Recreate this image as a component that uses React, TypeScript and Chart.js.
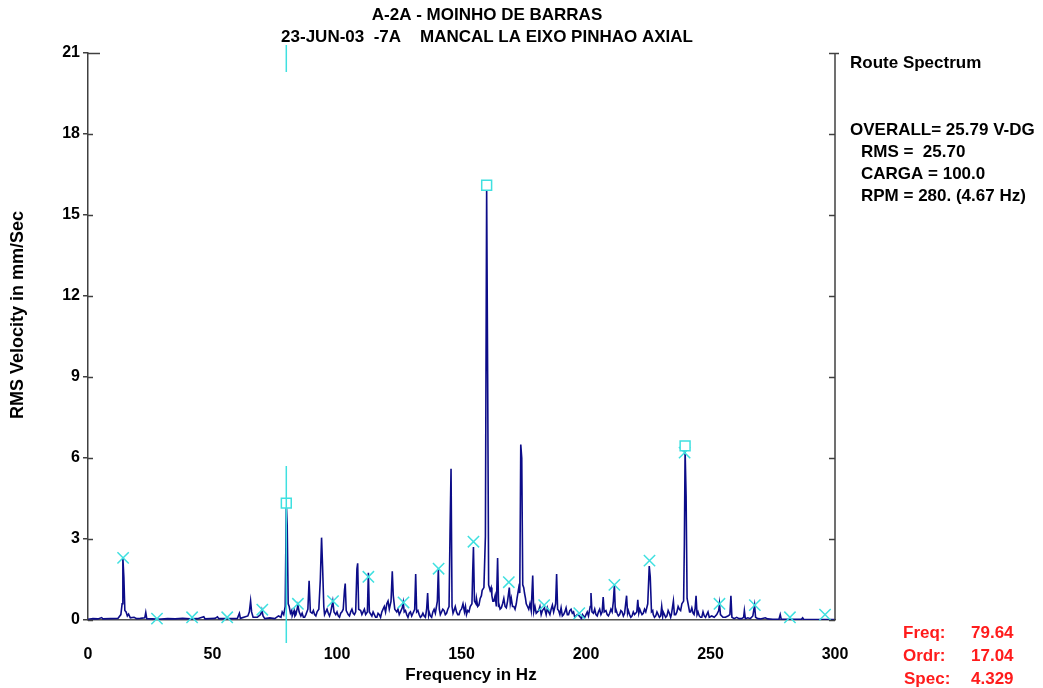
import React, { useEffect, useRef } from "react";
import { Chart, registerables } from "chart.js";

Chart.register(...registerables);

// ---- data ----
const SPEC_FREQ = [
  0, 2, 4, 5.5, 6, 9, 12, 13.2, 13.7, 14.0, 14.4, 14.8, 15.3, 15.8, 16.3, 17, 18.5, 19.5, 21, 22.8,
  23.2, 23.6, 26, 28, 32, 35, 38, 41, 44, 46.5, 47, 51, 52, 52.5, 56, 60, 60.8, 61.2, 64.2, 64.8,
  65.3, 65.7, 66.3, 68, 69.3, 69.8, 70.3, 71, 73, 75, 76.5, 77.5, 78, 78.6, 79.2, 79.64, 80.0, 80.4, 80.8, 81.3,
  82, 82.8, 83.5, 84.3, 84.8, 85.5, 86.5, 87.5, 88.3, 88.8, 89.3, 90, 91, 92, 92.7, 93.3, 93.8, 94.2, 94.7, 95.5,
  96.5, 97.5, 98.3, 98.8, 99.5, 100.5, 101.5, 102.5, 103.0, 103.3, 103.7, 104.5, 105.5, 106.5, 107.5, 108.0, 108.3, 108.7, 109.5, 110.5,
  111.5, 112.2, 112.6, 113.0, 114, 115, 116, 117, 118, 119, 120, 121, 121.7, 122.2, 122.6, 123.2, 124, 125, 126.2, 126.6,
  127, 128, 129, 130, 131.2, 131.6, 132, 133, 134, 135, 136.0, 136.4, 136.8, 137.5, 138.5, 139.5, 140.3, 140.7, 141.1, 142,
  143, 144, 145.0, 145.4, 145.8, 146.2, 147, 148, 149, 150, 150.6, 151.2, 152, 153, 154.2, 154.5, 154.8, 155.2, 155.8, 156.5,
  157.5, 158.3, 159.0, 159.6, 160.1, 160.5, 160.9, 161.5, 162.2, 163, 164, 164.5, 164.9, 165.5, 166.5, 167.5, 168.5, 169.2, 169.6, 170.5,
  171.5, 172.3, 173.0, 173.4, 173.8, 174.2, 174.6, 175.3, 176, 177, 178, 178.6, 179, 180, 181, 182, 183.3, 184, 185, 186,
  187, 187.8, 188.2, 188.6, 189.5, 190.5, 191.5, 192.5, 193.5, 194.5, 195.5, 196.5, 197.3, 198.2, 199, 200, 201, 201.7, 202.0, 202.4,
  203, 204, 205, 206, 206.5, 206.9, 207.3, 208.5, 209.5, 210.5, 211.0, 211.4, 211.8, 212.5, 213.5, 214.5, 215.5, 216.3, 216.7, 217.5,
  218.5, 219.5, 220.4, 220.8, 221.2, 222, 223, 224, 224.8, 225.4, 225.8, 226.3, 227, 228, 229, 230, 230.4, 230.8, 231.5, 232.5,
  233.5, 234.3, 235.1, 235.5, 236.5, 237.5, 238.5, 239.2, 239.5, 239.8, 240.2, 240.6, 241.2, 242, 243, 243.8, 244.2, 244.6, 245.5, 246.5,
  247.5, 248.5, 249.5, 250.5, 251.5, 252.5, 253.3, 253.6, 254, 255, 256, 257, 257.8, 258.2, 258.6, 259.5, 260.5, 261.5, 262.5, 263.3,
  263.6, 264, 265, 266, 267, 267.7, 268.1, 269, 270, 272, 273, 275, 277.5, 278, 278.4, 281, 284, 286.5, 287, 287.4,
  290, 295, 300,
];
const SPEC_AMP = [
  0.03, 0.05, 0.04, 0.09, 0.04, 0.05, 0.06, 0.2, 0.6, 2.3, 1.6, 0.35, 0.3, 0.15, 0.22, 0.08, 0.1, 0.05, 0.06, 0.08,
  0.28, 0.05, 0.04, 0.03, 0.05, 0.04, 0.06, 0.04, 0.05, 0.12, 0.04, 0.06, 0.12, 0.05, 0.05, 0.06, 0.25, 0.06, 0.15, 0.3,
  0.7, 0.3, 0.1, 0.1, 0.2, 0.38, 0.15, 0.05, 0.08, 0.05, 0.15, 0.1, 0.3, 0.2, 0.5, 4.33, 3.5, 0.6, 0.5, 0.25,
  0.15, 0.35, 0.2, 0.55, 0.3, 0.15, 0.1, 0.2, 0.4, 1.45, 0.3, 0.25, 0.2, 0.3, 0.4, 1.5, 3.05, 2.0, 0.5, 0.3,
  0.25, 0.3, 0.7, 0.3, 0.2, 0.15, 0.25, 0.4, 1.1, 1.35, 0.35, 0.2, 0.3, 0.25, 0.3, 1.9, 2.1, 0.4, 0.35, 0.3,
  0.2, 0.3, 1.75, 0.3, 0.15, 0.2, 0.1, 0.2, 0.3, 0.5, 0.6, 0.4, 0.7, 1.8, 0.9, 0.4, 0.3, 0.2, 0.45, 0.65,
  0.3, 0.2, 0.25, 0.15, 0.4, 1.7, 0.3, 0.2, 0.15, 0.15, 0.4, 1.0, 0.2, 0.15, 0.3, 0.25, 0.7, 1.9, 0.4, 0.3,
  0.35, 0.25, 0.5, 3.3, 5.6, 0.5, 0.35, 0.3, 0.2, 0.4, 0.6, 0.3, 0.2, 0.3, 0.6, 1.8, 2.7, 0.7, 0.6, 0.5,
  0.8, 1.1, 1.2, 3.1, 16.0, 9.1, 1.3, 1.1, 0.9, 0.7, 0.5, 2.3, 0.5, 0.4, 0.6, 0.5, 0.7, 1.2, 0.6, 0.5,
  0.4, 0.8, 1.2, 1.0, 6.5, 6.0, 1.3, 1.0, 0.6, 0.4, 0.35, 1.65, 0.3, 0.25, 0.35, 0.2, 0.45, 0.2, 0.3, 0.4,
  0.3, 0.6, 1.7, 0.4, 0.2, 0.15, 0.3, 0.2, 0.35, 0.25, 0.1, 0.2, 0.15, 0.05, 0.15, 0.2, 0.15, 0.5, 1.0, 0.3,
  0.25, 0.2, 0.3, 0.2, 0.3, 0.85, 0.3, 0.2, 0.25, 0.3, 0.7, 1.3, 0.3, 0.25, 0.2, 0.3, 0.25, 0.9, 0.25, 0.2,
  0.15, 0.2, 0.3, 0.75, 0.25, 0.3, 0.25, 0.3, 0.6, 2.0, 1.6, 0.3, 0.2, 0.15, 0.2, 0.15, 0.5, 0.15, 0.2, 0.15,
  0.25, 0.2, 0.7, 0.2, 0.3, 0.4, 0.6, 0.7, 2.8, 6.3, 4.6, 0.8, 0.5, 0.3, 0.25, 0.4, 0.9, 0.2, 0.15, 0.1,
  0.15, 0.2, 0.1, 0.15, 0.1, 0.2, 0.35, 0.6, 0.2, 0.1, 0.1, 0.15, 0.2, 0.9, 0.1, 0.05, 0.1, 0.05, 0.05, 0.1,
  0.35, 0.05, 0.08, 0.05, 0.15, 0.55, 0.1, 0.05, 0.04, 0.08, 0.04, 0.03, 0.03, 0.2, 0.03, 0.03, 0.03, 0.03, 0.08, 0.03,
  0.02, 0.02, 0.02,
];

// extra noise-floor samples between the peaks (merged with the list above)
const NOISE_FREQ = [
  81.8, 83.1, 86.0, 87.0, 90.5, 91.5, 95.0, 96.0, 97.0, 100.0, 101.0, 102.0, 105.0, 106.0, 107.0, 110.0, 111.0, 114.5, 115.5, 116.5,
  117.5, 118.5, 119.5, 120.5, 124.5, 125.5, 127.5, 128.5, 129.5, 130.5, 132.5, 133.5, 134.5, 135.5, 137.0, 138.0, 139.0, 141.5, 142.5, 143.5,
  144.5, 146.6, 147.5, 148.5, 149.5, 151.6, 152.5, 153.5, 156.0, 157.0, 158.0, 161.9, 162.6, 163.5, 165.0, 166.0, 167.0, 168.0, 170.0, 171.0,
  172.0, 175.0, 175.7, 176.5, 177.5, 179.5, 180.5, 181.5, 182.5, 184.5, 185.5, 186.5, 189.0, 190.0, 191.0, 192.0, 193.0, 194.0, 195.0, 196.0,
  198.6, 199.5, 200.5, 203.5, 204.5, 205.5, 208.0, 209.0, 210.0, 212.0, 213.0, 214.0, 215.0, 217.0, 218.0, 219.0, 221.6, 222.5, 223.5, 226.8,
  227.5, 228.5, 229.5, 231.0, 232.0, 233.0, 234.0, 236.0, 237.0, 238.0, 241.6, 242.5, 243.4, 245.0, 246.0, 247.0, 248.0, 249.0,
];
const NOISE_AMP = [
  0.35, 0.15, 0.25, 0.1, 0.35, 0.15, 0.2, 0.4, 0.15, 0.3, 0.1, 0.3, 0.15, 0.4, 0.2, 0.2, 0.4, 0.3, 0.1, 0.25,
  0.1, 0.4, 0.3, 0.7, 0.4, 0.3, 0.35, 0.1, 0.3, 0.25, 0.35, 0.1, 0.25, 0.1, 0.3, 0.1, 0.4, 0.2, 0.4, 0.2,
  0.4, 0.25, 0.5, 0.2, 0.35, 0.5, 0.35, 0.5, 0.8, 0.55, 0.9, 1.2, 0.7, 0.9, 0.6, 0.45, 0.8, 0.45, 0.8, 0.5,
  0.6, 1.2, 0.8, 0.5, 0.6, 0.5, 0.3, 0.5, 0.35, 0.45, 0.2, 0.55, 0.35, 0.45, 0.2, 0.45, 0.2, 0.4, 0.3, 0.15,
  0.2, 0.1, 0.3, 0.4, 0.15, 0.4, 0.35, 0.15, 0.4, 0.4, 0.15, 0.35, 0.15, 0.35, 0.1, 0.3, 0.4, 0.2, 0.4, 0.35,
  0.1, 0.3, 0.1, 0.3, 0.1, 0.35, 0.1, 0.2, 0.5, 0.35, 0.3, 0.45, 0.2, 0.3, 0.1, 0.3, 0.1, 0.3,
];

// harmonic markers (X) and peak markers (square)
const HARM_FREQ = [14.1, 27.7, 41.8, 55.9, 70.0, 84.3, 98.4, 112.6, 126.7, 140.8, 154.8, 169.0, 183.2, 197.3, 211.4, 225.5, 239.6, 253.6, 267.8, 281.9, 296.0];
const HARM_AMP = [2.3, 0.05, 0.1, 0.1, 0.38, 0.6, 0.7, 1.6, 0.65, 1.9, 2.9, 1.4, 0.55, 0.25, 1.3, 2.2, 6.2, 0.6, 0.55, 0.1, 0.2];
const PEAK_FREQ = [79.64, 160.1, 239.8];
const PEAK_AMP = [4.33, 16.1, 6.45];

const CURSOR_FREQ = 79.64;
const Y_TICKS = [0, 3, 6, 9, 12, 15, 18, 21];

const TITLE_LINES = ["A-2A - MOINHO DE BARRAS", "23-JUN-03  -7A    MANCAL LA EIXO PINHAO AXIAL"];
const INFO_HEADER = "Route Spectrum";
const INFO_LINES = ["OVERALL= 25.79 V-DG", "RMS =  25.70", "CARGA = 100.0", "RPM = 280. (4.67 Hz)"];
const CURSOR_LABELS = ["Freq:", "Ordr:", "Spec:"];
const CURSOR_VALUES = ["79.64", "17.04", "4.329"];
const X_TITLE = "Frequency in Hz";
const Y_TITLE = "RMS Velocity in mm/Sec";

const FONT = "'Liberation Sans', Arial, sans-serif";
const CYAN = "#3fe0e0";
const AXIS = "#404040";

export default function App() {
  const ref = useRef<HTMLCanvasElement>(null);

  useEffect(() => {
    if (!ref.current) return;

    const spectrum = SPEC_FREQ.map((f, i) => ({ x: f, y: SPEC_AMP[i] }))
      .concat(NOISE_FREQ.map((f, i) => ({ x: f, y: NOISE_AMP[i] })))
      .sort((a, b) => a.x - b.x);

    const decor = {
      id: "decor",
      afterDatasetsDraw(chart: any) {
        const { ctx, chartArea: a, scales } = chart;
        const xs = scales.x;
        const ys = scales.y;
        ctx.save();
        // right axis
        ctx.strokeStyle = AXIS;
        ctx.lineWidth = 1.5;
        ctx.beginPath();
        ctx.moveTo(a.right, a.top);
        ctx.lineTo(a.right, a.bottom);
        ctx.stroke();
        Y_TICKS.forEach((v) => {
          const py = Math.round(ys.getPixelForValue(v)) + 0.5;
          ctx.beginPath();
          ctx.moveTo(a.right - 6, py);
          ctx.lineTo(a.right + (v === 21 ? 4 : 0), py);
          ctx.stroke();
          ctx.beginPath();
          ctx.moveTo(a.left, py);
          ctx.lineTo(a.left + (v === 21 ? 12 : 5), py);
          ctx.stroke();
        });
        // cursor line
        const cx = xs.getPixelForValue(CURSOR_FREQ);
        ctx.strokeStyle = CYAN;
        ctx.lineWidth = 1.5;
        ctx.beginPath();
        ctx.moveTo(cx, a.top - 8);
        ctx.lineTo(cx, a.top + 19);
        ctx.moveTo(cx, ys.getPixelForValue(5.7));
        ctx.lineTo(cx, a.bottom + 23);
        ctx.stroke();
        ctx.restore();
      },
      afterDraw(chart: any) {
        const { ctx } = chart;
        ctx.save();
        ctx.fillStyle = "#000";
        ctx.textBaseline = "middle";
        // title
        ctx.font = `bold 17px ${FONT}`;
        ctx.textAlign = "center";
        ctx.fillText(TITLE_LINES[0], 487, 15);
        ctx.fillText(TITLE_LINES[1], 487, 37);
        // axis titles
        ctx.fillText(X_TITLE, 471, 675);
        ctx.save();
        ctx.translate(18, 315);
        ctx.rotate(-Math.PI / 2);
        ctx.font = `bold 18px ${FONT}`;
        ctx.fillText(Y_TITLE, 0, 0);
        ctx.restore();
        // info
        ctx.textAlign = "left";
        ctx.font = `bold 17px ${FONT}`;
        ctx.fillText(INFO_HEADER, 850, 63);
        ctx.fillText(INFO_LINES[0], 850, 130);
        ctx.fillText(INFO_LINES[1], 861, 152);
        ctx.fillText(INFO_LINES[2], 861, 174);
        ctx.fillText(INFO_LINES[3], 861, 196);
        // cursor readout
        ctx.fillStyle = "#ff1c1c";
        const rows = [633, 656, 679];
        CURSOR_LABELS.forEach((t, i) => ctx.fillText(t, i === 2 ? 904 : 903, rows[i]));
        CURSOR_VALUES.forEach((t, i) => ctx.fillText(t, 971, rows[i]));
        ctx.restore();
      },
    };

    const chart = new Chart(ref.current, {
      type: "scatter",
      data: {
        datasets: [
          {
            label: "peaks",
            data: PEAK_FREQ.map((f, i) => ({ x: f, y: PEAK_AMP[i] })),
            pointStyle: "rect",
            pointRadius: 7,
            borderColor: CYAN,
            backgroundColor: "#ffffff",
            borderWidth: 1.5,
            clip: false,
          } as any,
          {
            label: "harmonics",
            data: HARM_FREQ.map((f, i) => ({ x: f, y: HARM_AMP[i] })),
            pointStyle: "crossRot",
            pointRadius: 8,
            borderColor: CYAN,
            backgroundColor: CYAN,
            borderWidth: 1.5,
            clip: false,
          } as any,
          {
            label: "spectrum",
            data: spectrum,
            showLine: true,
            borderColor: "#0c0c88",
            backgroundColor: "#0c0c88",
            borderWidth: 1.6,
            pointRadius: 0,
            tension: 0,
          } as any,
        ],
      },
      options: {
        animation: false,
        responsive: true,
        maintainAspectRatio: false,
        layout: { padding: { top: 53, right: 208, left: 0, bottom: 0 } },
        plugins: { legend: { display: false }, tooltip: { enabled: false } },
        scales: {
          x: {
            type: "linear",
            min: 0,
            max: 300,
            grid: { display: false },
            border: { display: true, color: "#505050", width: 1.5 },
            ticks: {
              stepSize: 50,
              padding: 17,
              color: "#000",
              font: { family: FONT, size: 16, weight: "bold" },
            },
            afterFit: (s: any) => {
              s.height = 68;
            },
          },
          y: {
            type: "linear",
            min: 0,
            max: 21,
            grid: { display: true, drawOnChartArea: false, drawTicks: true, tickLength: 5, color: AXIS, lineWidth: 1.5 },
            border: { display: true, color: AXIS, width: 1.5 },
            ticks: {
              stepSize: 3,
              padding: 3,
              color: "#000",
              font: { family: FONT, size: 16, weight: "bold" },
            },
            afterFit: (s: any) => {
              s.width = 88;
            },
          },
        },
      } as any,
      plugins: [decor],
    });
    return () => chart.destroy();
  }, []);

  return (
    <div style={{ position: "fixed", left: 0, top: 0, width: 1043, height: 688, background: "#fff" }}>
      <canvas ref={ref} />
    </div>
  );
}
